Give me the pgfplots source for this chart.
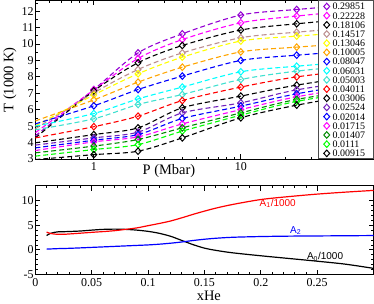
\documentclass[border=0pt]{standalone}
\usepackage{fontspec}
\setmainfont{Liberation Serif}
\newfontfamily\hv{Liberation Sans}
\usepackage{pgfplots}
\usepackage{pgfplotstable}
\pgfplotsset{compat=1.18}
\definecolor{cviolet}{RGB}{148,0,211}
\definecolor{cmag}{RGB}{255,0,255}
\definecolor{crosy}{RGB}{188,143,143}
\definecolor{cyel}{RGB}{255,255,0}
\definecolor{cora}{RGB}{255,165,0}
\definecolor{cblue}{RGB}{0,0,255}
\definecolor{ccyan}{RGB}{0,255,255}
\definecolor{cturq}{RGB}{64,224,208}
\definecolor{cred}{RGB}{255,0,0}
\definecolor{cindigo}{RGB}{114,33,188}
\definecolor{cgreenf}{RGB}{0,139,0}
\definecolor{cgreen}{RGB}{0,255,0}

\pgfplotstableread{
P a b c d e f g h i j k l m n o p q
0.4 4.41 4.60 4.29 4.84 5.02 5.32 5.14 5.00 4.78 4.29 3.99 3.85 3.68 3.52 3.38 3.18 2.97
1 7.23 7.21 7.15 7.03 6.90 6.60 6.24 5.77 5.45 4.97 4.49 4.29 4.15 4.05 3.79 3.58 3.27
2 9.46 9.12 8.86 8.45 8.19 7.68 7.23 6.66 6.32 5.61 4.90 4.64 4.49 4.35 4.19 3.88 3.48
4 10.62 10.27 9.91 9.46 9.20 8.59 8.05 7.38 6.93 6.56 6.12 5.81 5.47 5.14 4.90 4.70 4.29
10 11.76 11.29 10.85 10.38 10.18 9.52 9.00 8.31 7.84 7.38 6.83 6.42 6.22 6.01 5.81 5.67 5.51
24 12.10 11.70 11.23 10.72 10.48 9.81 9.32 8.65 8.35 8.00 7.50 7.21 6.97 6.79 6.63 6.51 6.28
80 12.47 12.15 11.65 11.09 10.81 10.13 9.67 9.02 8.80 8.55 8.20 7.90 7.75 7.55 7.35 7.25 7.10
}\linetab

\pgfplotstableread{
P a b c d e f g h i j k l m n o p q
1 7.23 7.21 7.15 7.03 6.90 6.60 6.24 5.77 5.45 4.97 4.49 4.29 4.15 4.05 3.79 3.58 3.27
2 9.46 9.12 8.86 8.45 8.19 7.68 7.23 6.66 6.32 5.61 4.90 4.64 4.49 4.35 4.19 3.88 3.48
4 10.62 10.27 9.91 9.46 9.20 8.59 8.05 7.38 6.93 6.56 6.12 5.81 5.47 5.14 4.90 4.70 4.29
10 11.76 11.29 10.85 10.38 10.18 9.52 9.00 8.31 7.84 7.38 6.83 6.42 6.22 6.01 5.81 5.67 5.51
24 12.10 11.70 11.23 10.72 10.48 9.81 9.32 8.65 8.35 8.00 7.50 7.21 6.97 6.79 6.63 6.51 6.28
}\marktab

\pgfplotstableread{
x A1 A0 A2
0.010 3.60 2.90 0.15
0.013 3.35 3.30 0.18
0.017 3.20 3.55 0.22
0.020 3.15 3.65 0.25
0.025 3.15 3.68 0.28
0.030 3.22 3.72 0.31
0.040 3.38 3.82 0.40
0.050 3.55 4.00 0.50
0.060 3.70 4.15 0.60
0.070 3.88 4.20 0.70
0.080 4.15 4.15 0.80
0.090 4.45 4.00 0.90
0.100 4.90 3.75 1.00
0.110 5.35 3.35 1.15
0.120 5.85 2.75 1.35
0.130 6.50 1.90 1.60
0.140 7.20 1.05 1.90
0.150 7.85 0.35 2.15
0.160 8.45 -0.10 2.35
0.175 9.20 -0.60 2.55
0.200 10.20 -1.20 2.70
0.225 10.80 -1.75 2.78
0.250 11.30 -2.30 2.82
0.275 11.70 -2.90 2.86
0.300 12.05 -3.75 2.90
}\bottab

\newcommand{\ser}[2]{%
\addplot[#1, line width=1.1pt, dash pattern=on 5pt off 3pt, smooth, forget plot] table[x=P,y=#2]{\linetab};
}
\newcommand{\mk}[3]{%
\addplot[#1, only marks, mark=diamond, mark size=3.3pt, mark options={solid, fill=white, line width=1pt, xscale=1.2}] table[x=P,y=#2]{\marktab};
\addlegendentry{#3}
}

\begin{document}
\begin{tikzpicture}
\begin{axis}[
  at={(0pt,115.7pt)}, anchor=south west,
  scale only axis, width=339pt, height=159pt,
  xmode=log, xmin=0.4, xmax=80, ymin=3, ymax=12.65,
  xtick={1,10}, xticklabels={1,10},
  minor xtick={0.4,0.5,0.6,0.7,0.8,0.9,2,3,4,5,6,7,8,9,20,30,40,50,60,70},
  ytick={3,4,5,6,7,8,9,10,11,12}, yticklabels={3,4,5,6,7,8,9,10,11,12},
  minor ytick={3.5,4.5,5.5,6.5,7.5,8.5,9.5,10.5,11.5,12.5},
  tick align=inside, major tick length=5pt, minor tick length=2.5pt,
  tick style={black, line width=0.8pt},
  axis line style={line width=0.9pt},
  tick label style={font=\fontsize{12}{12}\selectfont},
  yticklabel style={inner xsep=1.5pt},
  xlabel={P (Mbar)}, ylabel={T (1000 K)},
  label style={font=\fontsize{14.5}{14.5}\selectfont},
  xlabel style={at={(axis description cs:0.395,0)}, anchor=center, yshift=-12pt},
  ylabel style={at={(axis description cs:-0.0752,0.5)}, anchor=center},
  legend style={at={(1,1)}, anchor=north east, draw=black!70, line width=0.9pt, fill=white,
    font=\fontsize{10}{10}\selectfont, inner xsep=5pt, inner ysep=1pt, row sep=0pt,
    nodes={inner ysep=1pt, inner xsep=3pt, text height=7pt, text depth=0.2pt}},
  legend cell align=left,
  legend image code/.code={\draw[#1] plot coordinates {(0pt,0pt)};},
]
\ser{cviolet}{a}
\ser{cmag}{b}
\ser{black}{c}
\ser{crosy}{d}
\ser{cyel}{e}
\ser{cora}{f}
\ser{cblue}{g}
\ser{ccyan}{h}
\ser{cturq}{i}
\ser{cred}{j}
\ser{black}{k}
\ser{cindigo}{l}
\ser{cblue}{m}
\ser{cmag}{n}
\ser{cgreenf}{o}
\ser{cgreen}{p}
\ser{black}{q}
\mk{cviolet}{a}{0.29851}
\mk{cmag}{b}{0.22228}
\mk{black}{c}{0.18106}
\mk{crosy}{d}{0.14517}
\mk{cyel}{e}{0.13046}
\mk{cora}{f}{0.10005}
\mk{cblue}{g}{0.08047}
\mk{ccyan}{h}{0.06031}
\mk{cturq}{i}{0.05003}
\mk{cred}{j}{0.04011}
\mk{black}{k}{0.03006}
\mk{cindigo}{l}{0.02524}
\mk{cblue}{m}{0.02014}
\mk{cmag}{n}{0.01715}
\mk{cgreenf}{o}{0.01407}
\mk{cgreen}{p}{0.0111}
\mk{black}{q}{0.00915}
\end{axis}

\begin{axis}[
  at={(0pt,0pt)}, anchor=south west,
  scale only axis, width=339pt, height=89pt,
  xmin=0, xmax=0.3, ymin=-5, ymax=13,
  xtick={0,0.05,0.1,0.15,0.2,0.25}, xticklabels={0,0.05,0.1,0.15,0.2,0.25},
  minor x tick num=4,
  ytick={-5,0,5,10}, yticklabels={-5,0,5,10},
  minor y tick num=4,
  tick align=inside, major tick length=5pt, minor tick length=2.5pt,
  tick style={black, line width=0.8pt},
  axis line style={line width=0.9pt},
  tick label style={font=\fontsize{12}{12}\selectfont},
  yticklabel style={inner xsep=1.5pt},
  xlabel={xHe},
  label style={font=\fontsize{14.5}{14.5}\selectfont},
  xlabel style={at={(axis description cs:0.513,0)}, anchor=center, yshift=-21pt},
]
\addplot[black, line width=1.2pt, smooth] table[x=x,y=A0]{\bottab};
\addplot[cblue, line width=1.2pt, smooth] table[x=x,y=A2]{\bottab};
\addplot[cred, line width=1.2pt, smooth] table[x=x,y=A1]{\bottab};
\node[text=cred, font=\hv\fontsize{10}{10}\selectfont] at (axis cs:0.215,9.4) {A\textsubscript{1}/1000};
\node[text=cblue, font=\hv\fontsize{10}{10}\selectfont] at (axis cs:0.231,3.9) {A\textsubscript{2}};
\node[text=black, font=\hv\fontsize{10}{10}\selectfont] at (axis cs:0.257,-1.45) {A\textsubscript{0}/1000};
\end{axis}
\end{tikzpicture}
\end{document}
